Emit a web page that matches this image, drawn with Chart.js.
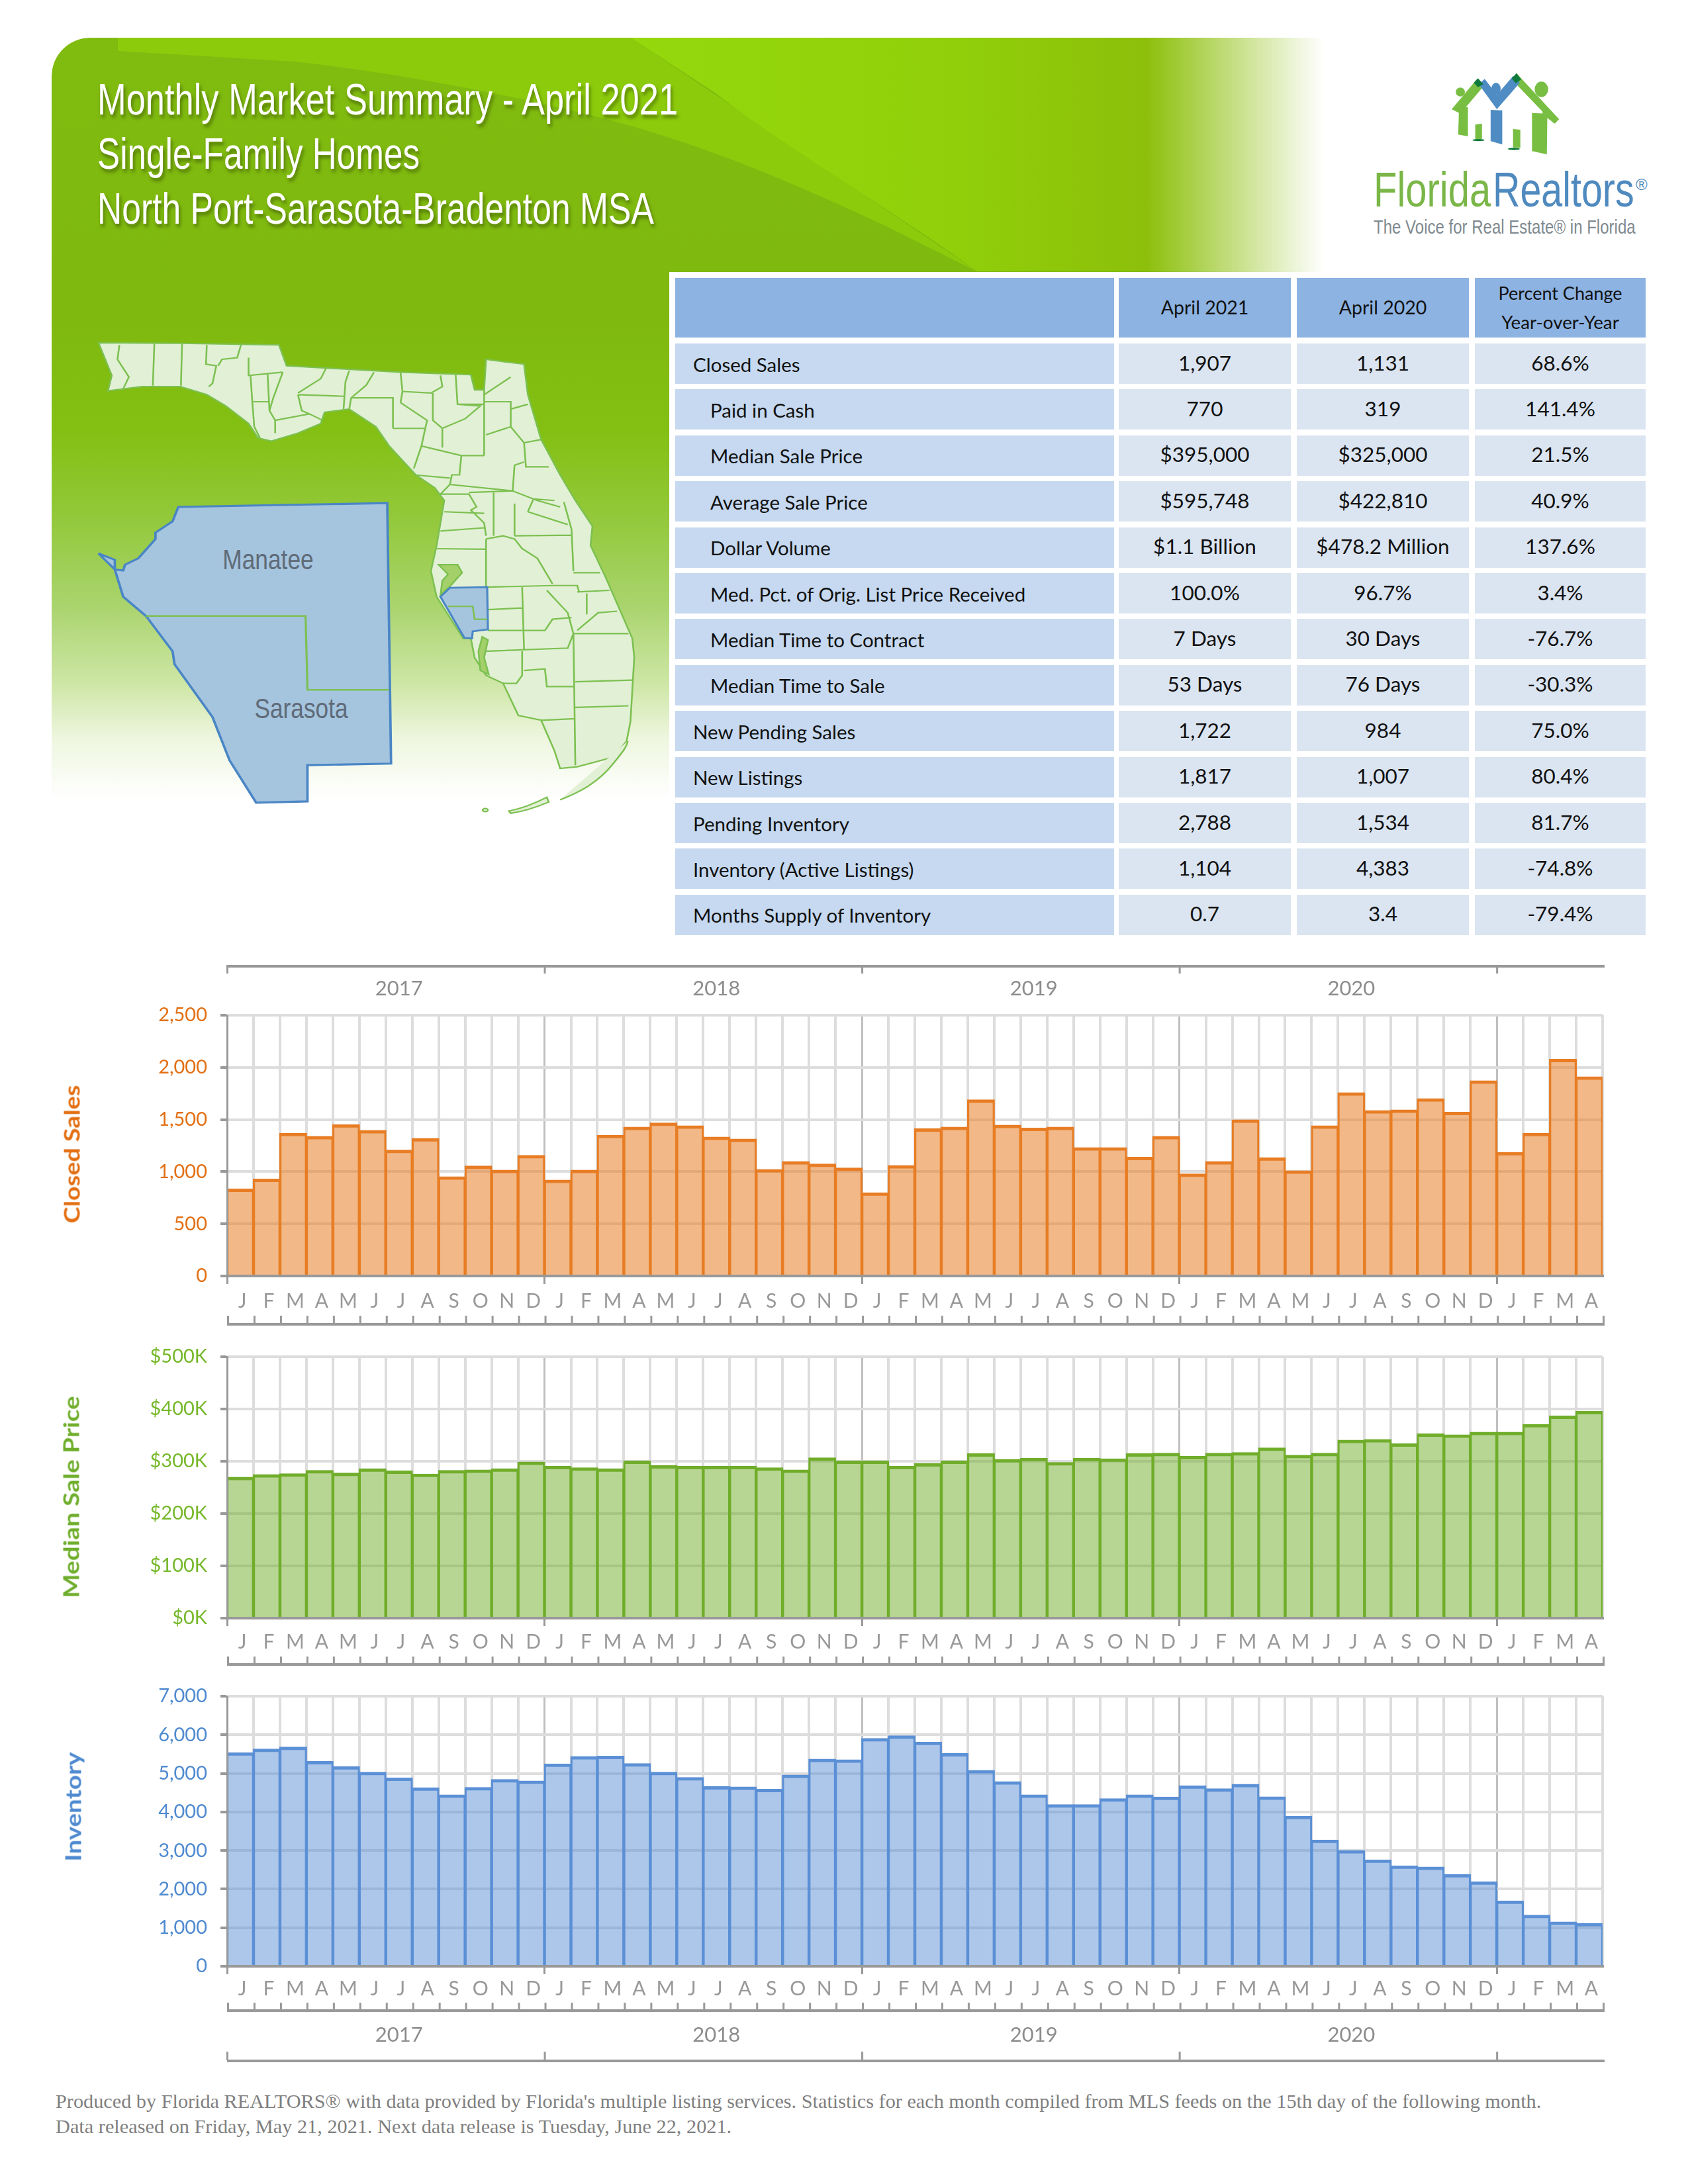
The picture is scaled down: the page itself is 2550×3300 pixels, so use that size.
<!DOCTYPE html>
<html>
<head>
<meta charset="utf-8">
<title>Monthly Market Summary - April 2021</title>
<script src="https://cdn.jsdelivr.net/npm/chart.js@4"></script>
<style>
html, body { margin: 0; padding: 0; background: #fff; }
#page { position: relative; width: 2550px; height: 3300px; overflow: hidden; background: #fff; }
#panel {
    position: absolute; left: 78px; top: 57px; width: 1925px; height: 1185px;
    border-top-left-radius: 58px;
    background: linear-gradient(to bottom, #80bb10 0, #7fb90f 430px, #84c014 600px, #93c93c 730px, #aad46e 860px, #cfe7a8 980px, #eef6df 1060px, #fff 1150px);
    -webkit-mask-image: linear-gradient(to right, #000 1653px, transparent 1922px);
    mask-image: linear-gradient(to right, #000 1653px, transparent 1922px);
}
#sweep { position: absolute; left: 0; top: 0; }
#tableBack { position: absolute; left: 1011px; top: 411px; width: 1539px; height: 1010px; background: #fff; }
.txt { position: absolute; white-space: nowrap; line-height: 1; }
.cell { position: absolute; }
svg.art { position: absolute; overflow: visible; }
canvas { position: absolute; left: 0; }
</style>
</head>
<body>
<div id="page">
    <div id="panel">
        <svg id="sweep" width="1925" height="1185">
            <defs>
                <linearGradient id="wedge" x1="875" y1="0" x2="1660" y2="0" gradientUnits="userSpaceOnUse">
                    <stop offset="0" stop-color="#95d80c"/>
                    <stop offset="0.6" stop-color="#91d00a"/>
                    <stop offset="1" stop-color="#8cbf0a"/>
                </linearGradient>
            </defs>
            <path d="M100,0 L875,0 L1398,353 L1257,283 C1100,210 1000,170 875,133 C700,85 500,50 365,36 L100,20 Z" fill="#8ccb0b"/>
            <path d="M875,0 L1925,0 L1925,353 L1398,353 C1300,280 1100,160 1002,83 Z" fill="url(#wedge)"/>
        </svg>
    </div>
    <div id="tableBack"></div>

    <!-- Florida map and the county inset, same coordinate box as the source crop -->
    <svg class="art" style="left:100px;top:480px" width="900" height="760" viewBox="0 0 1568 1568" preserveAspectRatio="none">
        <g fill="none" stroke="#7cc051" stroke-width="4.5">
            <path fill="#e2f0d5" d="M85,78 L300,80 L560,85 L580,150 L880,170 L1065,178 L1075,225 L1100,225 L1105,130 L1205,145 L1215,240 L1250,380 L1300,490 L1340,570 L1385,650 L1380,710 L1420,810 L1490,1000 L1495,1060 L1485,1260 L1475,1320 L1440,1370 L1345,1400 L1300,1405 L1285,1350 L1250,1255 L1190,1240 L1150,1140 L1105,1115 L1075,1060 L1065,1000 L1045,1000 L975,870 L960,790 L975,710 L995,570 L970,530 L920,490 L850,400 L815,340 L745,285 L680,295 L670,330 L610,360 L540,385 L505,375 L480,330 L420,275 L370,240 L300,215 L200,215 L110,228 L120,180 Z"/>
            <path d="M140,85 L135,130 L165,185 L150,222 M232,80 L228,212 M305,80 L302,212 M370,85 L368,145 L395,150 L385,205 L375,215 M460,85 L450,125 L410,130 L400,150 M480,125 L480,180 L570,170 M485,180 L490,265 L495,340 L510,375 M530,175 L535,290 L550,320 L550,360 M490,262 L535,262 M570,170 L545,250 L535,290 M550,320 L640,300 L675,320 M610,240 L730,245 M610,240 L620,290 L640,300 M685,155 L670,190 L610,235 M745,165 L735,200 L730,285 M810,170 L790,210 L750,250 L745,285"/>
            <path d="M880,170 L885,230 L880,265 M750,250 L860,250 L860,345 M880,265 L950,320 L945,345 M860,345 L945,345 L935,400 L915,470 M985,180 L990,215 L960,235 L885,230 M1025,178 L1030,270 L1100,270 M965,235 L965,320 L990,345 L990,405 M1100,225 L1100,430 M1100,262 L1170,262 L1170,340 M1170,185 L1100,240 M1170,285 L1215,270 M1030,270 L1090,275 L1050,315 L990,345 M1105,365 L1170,340 L1205,390 L1250,380 M1205,390 L1210,465 L1270,465 M1100,430 L1040,430 L1035,490 L1015,490 L1010,520 L1175,540 L1180,460 L1205,450 M935,400 L1040,430 M915,490 L1010,500 M1010,520 L985,550"/>
            <path d="M985,550 L1060,550 L1080,590 L1065,600 L1100,640 L1105,680 M1060,545 L1175,540 L1240,570 L1300,590 M1125,545 L1125,680 M1180,580 L1180,680 M1215,605 L1230,565 L1285,570 M1215,605 L1320,645 M1310,575 L1330,660 L1335,790 M995,605 L1100,610 M985,665 L1100,655 M1105,690 L1105,840 M975,720 L1105,722 M1105,690 L1150,680 L1180,690 L1200,720 L1240,750 L1280,830 M1180,680 L1330,678 M1335,795 L1405,795 M1345,855 L1430,850 M1280,835 L1345,835 L1350,855 M1108,840 L1280,835 M1200,840 L1205,1035 M1265,850 L1320,920 L1335,985 M1110,910 L1200,905 M1110,975 L1260,975 L1280,940 L1330,935 M1335,985 L1480,985 M1345,975 L1400,920 L1450,915 M1370,860 L1370,925 M1335,985 L1340,1395 M1100,1040 L1320,1030 L1335,985 M1200,1040 L1200,1115 L1185,1140 L1150,1140 M1205,1100 L1260,1095 L1265,1150 L1335,1150 M1340,1135 L1490,1130 M1340,1215 L1480,1210 M1250,1255 L1340,1250"/>
            <path fill="#a4d06a" d="M980,770 L1030,770 L1042,795 L1012,835 L985,865 L990,820 L1005,800 Z"/>
            <path fill="#a4d06a" d="M1095,995 L1110,1005 L1100,1060 L1112,1112 L1090,1100 L1085,1040 Z"/>
            <path fill="#e2f0d5" d="M1300,1503 C1350,1480 1400,1450 1440,1390 C1460,1360 1475,1340 1478,1320"/>
            <path fill="#e2f0d5" d="M1165,1538 C1200,1530 1240,1510 1265,1495 L1270,1510 C1240,1525 1200,1540 1170,1545 Z"/>
            <ellipse cx="1103" cy="1535" rx="7" ry="5" fill="#e2f0d5"/>
            <path fill="#a5c4de" stroke="#4a86c5" stroke-width="5.5" d="M985,870 L1010,842 L1108,840 L1110,972 L1070,978 L1068,1000 L1048,998 Z"/>
            <path d="M1005,900 L1070,900 L1075,940 L1108,940"/>
        </g>
        <path fill="#a5c4de" stroke="#4a86c5" stroke-width="6.5" d="M295,590 L845,578 L855,1390 L635,1395 L635,1508 L500,1512 L430,1380 L385,1245 L285,1080 L280,1040 L210,930 L150,870 L128,785 L85,735 L128,755 L128,785 L150,788 L155,770 L190,750 L235,690 L235,670 L280,635 Z"/>
        <path fill="none" stroke="#7cc051" stroke-width="5.5" d="M210,930 L630,930 L635,1160 L850,1160"/>
    </svg>

    <!-- Florida Realtors mark -->
    <svg class="art" style="left:1900px;top:40px" width="640" height="400" viewBox="0 0 1568 1200" preserveAspectRatio="none">
        <g fill="#78be43">
            <polygon points="718,375 812,238 835,272 750,395"/>
            <polygon points="958,212 1115,420 1095,438 940,240"/>
            <polygon points="745,370 778,365 778,498 742,490"/>
            <polygon points="805,445 830,440 830,510 805,512"/>
            <polygon points="945,465 972,468 972,550 945,548"/>
            <polygon points="1015,392 1072,395 1070,580 1015,565"/>
            <polygon points="1050,345 1115,420 1100,440 1055,400"/>
            <ellipse cx="750" cy="297" rx="17" ry="20"/>
            <ellipse cx="1050" cy="285" rx="25" ry="35"/>
        </g>
        <g fill="#4f8cc4">
            <polygon points="818,262 840,238 885,310 945,225 970,255 885,375"/>
            <polygon points="862,378 905,380 905,535 862,520"/>
            <ellipse cx="882" cy="282" rx="17" ry="27"/>
        </g>
        <g fill="#0e7a3c">
            <polygon points="815,235 835,262 815,275 800,255"/>
            <polygon points="958,212 975,240 955,258 940,235"/>
            <ellipse cx="817" cy="515" rx="22" ry="5"/>
            <ellipse cx="948" cy="555" rx="22" ry="5"/>
        </g>
    </svg>

    <canvas id="closedChart"></canvas>
    <canvas id="priceChart"></canvas>
    <canvas id="inventoryChart"></canvas>
</div>

<script>
// ============================================
// Monthly Market Summary - chart values
// ============================================
const monthLabels = [
    'J','F','M','A','M','J','J','A','S','O','N','D',
    'J','F','M','A','M','J','J','A','S','O','N','D',
    'J','F','M','A','M','J','J','A','S','O','N','D',
    'J','F','M','A','M','J','J','A','S','O','N','D',
    'J','F','M','A'
];
const yearLabels = ['2017', '2018', '2019', '2020'];

const closedSales = [
    832, 927, 1366, 1335, 1449, 1393, 1204, 1315, 949, 1051, 1012, 1153,
    917, 1012, 1347, 1425, 1464, 1437, 1330, 1311, 1019, 1095, 1070, 1032,
    794, 1056, 1408, 1425, 1687, 1444, 1415, 1425, 1228, 1228, 1136, 1335,
    976, 1095, 1495, 1131, 1005, 1437, 1755, 1583, 1590, 1697, 1568, 1869,
    1182, 1366, 2075, 1907
];
const medianPrice = [
    269000, 274000, 275500, 282000, 277000, 285000, 281000, 275000, 282000, 283000, 285000, 298000,
    290000, 287000, 285000, 300000, 291000, 290000, 290000, 290000, 287000, 283000, 306000, 300000,
    300000, 290000, 295000, 300000, 314000, 303000, 305000, 297000, 305000, 304000, 314000, 315000,
    309000, 315000, 316000, 325000, 311000, 315000, 340000, 341000, 333000, 352000, 350000, 355000,
    355000, 370000, 386000, 395000
];
const inventory = [
    5530, 5622, 5675, 5300, 5170, 5024, 4871, 4618, 4434, 4626, 4833, 4794,
    5239, 5430, 5438, 5246, 5024, 4886, 4649, 4641, 4580, 4948, 5361, 5346,
    5897, 5966, 5805, 5507, 5070, 4779, 4434, 4182, 4182, 4335, 4434, 4381,
    4672, 4595, 4710, 4383, 3883, 3263, 2995, 2750, 2596, 2566, 2374, 2183,
    1685, 1317, 1141, 1104
];

// Summary table
const tableColumns = ['April 2021', 'April 2020'];
const rowLabels = [
    'Closed Sales', 'Paid in Cash', 'Median Sale Price', 'Average Sale Price', 'Dollar Volume',
    'Med. Pct. of Orig. List Price Received', 'Median Time to Contract', 'Median Time to Sale',
    'New Pending Sales', 'New Listings', 'Pending Inventory', 'Inventory (Active Listings)',
    'Months Supply of Inventory'
];
const rowIndented = [false, true, true, true, true, true, true, true, false, false, false, false, false];
const april2021 = ['1,907', '770', '$395,000', '$595,748', '$1.1 Billion', '100.0%', '7 Days', '53 Days', '1,722', '1,817', '2,788', '1,104', '0.7'];
const april2020 = ['1,131', '319', '$325,000', '$422,810', '$478.2 Million', '96.7%', '30 Days', '76 Days', '984', '1,007', '1,534', '4,383', '3.4'];
const percentChange = ['68.6%', '141.4%', '21.5%', '40.9%', '137.6%', '3.4%', '-76.7%', '-30.3%', '75.0%', '80.4%', '81.7%', '-74.8%', '-79.4%'];

const footerLines = [
    "Produced by Florida REALTORS\u00AE with data provided by Florida's multiple listing services. Statistics for each month compiled from MLS feeds on the 15th day of the following month.",
    'Data released on Friday, May 21, 2021. Next data release is Tuesday, June 22, 2021.'
];

const FONT = 'Lato, "Open Sans", sans-serif';
const NARROW = '"Liberation Sans Narrow", "Liberation Sans", sans-serif';
const SERIF = '"Liberation Serif", serif';
const GRID_LIGHT = '#dddddd';
const GRID_YEAR = '#c0c0c0';
const AXIS_GRAY = '#999999';

const page = document.getElementById('page');

// text placed by its vertical centre; optional fit width stretches it to the source width
function addText(text, x, cy, size, opts) {
    opts = opts || {};
    const el = document.createElement('div');
    el.className = 'txt';
    el.textContent = text;
    el.style.left = x + 'px';
    el.style.top = cy + 'px';
    el.style.fontSize = size + 'px';
    el.style.fontFamily = opts.font || FONT;
    el.style.color = opts.color || '#000';
    if (opts.bold) el.style.fontWeight = 'bold';
    if (opts.shadow) el.style.textShadow = opts.shadow;
    page.appendChild(el);
    const center = opts.align === 'center';
    const k = opts.fit ? opts.fit / el.offsetWidth : 1;
    el.style.transformOrigin = center ? 'center' : 'left center';
    el.style.transform = 'translate(' + (center ? '-50%' : '0') + ',-50%)' +
        (opts.rot ? ' rotate(' + opts.rot + 'deg)' : '') + ' scaleX(' + k + ')';
    return el;
}

function addCell(x, y, w, h, color) {
    const el = document.createElement('div');
    el.className = 'cell';
    el.style.cssText = 'left:' + x + 'px;top:' + y + 'px;width:' + w + 'px;height:' + h + 'px;background:' + color;
    page.appendChild(el);
}

// Title block
const TITLE_SHADOW = '3px 5px 6px rgba(50,70,0,0.55)';
addText('Monthly Market Summary - April 2021', 147, 150, 66, { font: NARROW, color: '#fff', fit: 877, shadow: TITLE_SHADOW });
addText('Single-Family Homes', 147, 232, 66, { font: NARROW, color: '#fff', fit: 487, shadow: TITLE_SHADOW });
addText('North Port-Sarasota-Bradenton MSA', 147, 315, 66, { font: NARROW, color: '#fff', fit: 841, shadow: TITLE_SHADOW });

// Logo words
addText('Florida', 2075, 287, 74, { font: NARROW, color: '#7ab648', fit: 177 });
addText('Realtors', 2255, 287, 74, { font: NARROW, color: '#4f8abf', fit: 214 });
addText('\u00AE', 2471, 279, 24, { font: NARROW, color: '#4f8abf' });
addText('The Voice for Real Estate\u00AE in Florida', 2075, 343, 29, { font: NARROW, color: '#808a8f', fit: 396 });

// Inset names
addText('Manatee', 405, 846, 42, { font: NARROW, color: '#5f6b78', fit: 137, align: 'center' });
addText('Sarasota', 455, 1071, 42, { font: NARROW, color: '#5f6b78', fit: 141, align: 'center' });

// Summary table
const COL_X = [1020, 1690, 1959, 2228];
const COL_W = [663, 260, 260, 258];
const COL_MID = [0, 1820, 2089, 2357];
COL_X.forEach((x, i) => addCell(x, 420, COL_W[i], 90, '#8db3e2'));
tableColumns.forEach((name, i) => addText(name, COL_MID[i + 1], 464, 28.5, { align: 'center', color: '#111' }));
addText('Percent Change', COL_MID[3], 442, 27, { align: 'center', color: '#111', fit: 187 });
addText('Year-over-Year', COL_MID[3], 486, 27, { align: 'center', color: '#111', fit: 178 });
rowLabels.forEach((label, r) => {
    const top = 519 + r * 69.4;
    const mid = top + 30.5;
    COL_X.forEach((x, i) => addCell(x, Math.round(top), COL_W[i], 61, i === 0 ? '#c6d9f0' : '#dbe5f1'));
    addText(label, rowIndented[r] ? 1073 : 1047, mid + 1, 29.5, { color: '#111' });
    addText(april2021[r], COL_MID[1], mid - 1, 31.5, { align: 'center', color: '#111' });
    addText(april2020[r], COL_MID[2], mid - 1, 31.5, { align: 'center', color: '#111' });
    addText(percentChange[r], COL_MID[3], mid - 1, 31.5, { align: 'center', color: '#111' });
});

// Rotated axis names
addText('Closed Sales', 108, 1744, 33, { bold: true, color: '#e36f13', rot: -90, align: 'center', fit: 209 });
addText('Median Sale Price', 107, 2262, 33, { bold: true, color: '#6fae2c', rot: -90, align: 'center', fit: 305 });
addText('Inventory', 110, 2730, 33, { bold: true, color: '#4f8ad0', rot: -90, align: 'center', fit: 166 });

// Footer
addText(footerLines[0], 84, 3175, 29, { font: SERIF, color: '#7f7f7f', fit: 2244 });
addText(footerLines[1], 84, 3213, 29, { font: SERIF, color: '#7f7f7f', fit: 1021 });

// Excel style multi level axis: month tick row and the year brackets
const axisRows = {
    id: 'axisRows',
    afterDraw(chart, args, opts) {
        const { ctx } = chart;
        const x = chart.scales.x;
        const base = x.top;
        const count = monthLabels.length;
        const step = x.width / count;
        const edge = i => x.left + i * step;
        ctx.save();
        ctx.fillStyle = AXIS_GRAY;
        // month ticks with the long line under them
        for (let i = 0; i <= count; i++) {
            ctx.fillRect(edge(i), base + opts.monthTick, 3, opts.monthLine - opts.monthTick);
        }
        ctx.fillRect(edge(0), base + opts.monthLine, x.width + 3, 4);
        // year bracket
        if (opts.bracketLine !== undefined) {
            const lineY = opts.relative === 'top' ? chart.chartArea.top + opts.bracketLine : base + opts.bracketLine;
            const tickEnd = opts.relative === 'top' ? lineY + 12 : lineY - 12;
            ctx.fillRect(edge(0), lineY, x.width + 3, 4);
            for (let i = 0; i < count; i += 12) {
                ctx.fillRect(edge(i) - 1, Math.min(lineY, tickEnd), 3, 13);
            }
            const labelY = opts.relative === 'top' ? chart.chartArea.top + opts.yearLabel : base + opts.yearLabel;
            ctx.fillStyle = '#8c8c8c';
            ctx.font = '31px ' + FONT;
            ctx.textAlign = 'center';
            ctx.textBaseline = 'middle';
            yearLabels.forEach((year, i) => ctx.fillText(year, x.getPixelForValue(i * 12 + 6), labelY));
        }
        ctx.restore();
    }
};

function buildChart(id, spec) {
    const canvas = document.getElementById(id);
    canvas.width = 2550;
    canvas.height = spec.bottom - spec.top;
    canvas.style.top = spec.top + 'px';
    return new Chart(canvas, {
        type: 'bar',
        plugins: [axisRows],
        data: {
            labels: monthLabels,
            datasets: [{
                data: spec.values,
                backgroundColor: spec.fill,
                borderColor: spec.stroke,
                borderWidth: { top: 3, left: 1.25, right: 1.25, bottom: 0 },
                inflateAmount: 1,
                barPercentage: 1,
                categoryPercentage: 1
            }]
        },
        options: {
            responsive: false,
            devicePixelRatio: 1,
            animation: false,
            layout: { padding: { top: spec.plotTop - spec.top, right: 129, bottom: 0, left: 0 } },
            plugins: {
                legend: { display: false },
                title: { display: false },
                tooltip: { enabled: false },
                axisRows: spec.rows
            },
            scales: {
                x: {
                    afterFit(scale) { scale.height = spec.bottom - spec.plotBottom; },
                    border: { color: AXIS_GRAY, width: 4, z: 1 },
                    grid: {
                        offset: true,
                        color: c => (c.index % 12 === 0 ? GRID_YEAR : GRID_LIGHT),
                        lineWidth: c => (c.index % 12 === 0 ? 3 : 4),
                        tickColor: c => (c.index % 12 === 0 ? AXIS_GRAY : 'transparent'),
                        tickWidth: 3,
                        tickLength: 12
                    },
                    ticks: {
                        autoSkip: false,
                        maxRotation: 0,
                        labelOffset: 3,
                        padding: spec.monthPadding,
                        color: AXIS_GRAY,
                        font: { family: FONT, size: 30 }
                    }
                },
                y: {
                    min: 0,
                    max: spec.max,
                    afterFit(scale) { scale.width = 343; },
                    border: { color: AXIS_GRAY, width: 3, z: 1 },
                    grid: { color: GRID_LIGHT, lineWidth: 4, tickColor: AXIS_GRAY, tickWidth: 4, tickLength: 10 },
                    ticks: {
                        stepSize: spec.step,
                        padding: 20,
                        color: spec.tickColor,
                        font: { family: FONT, size: 29 },
                        callback: spec.format
                    }
                }
            }
        }
    });
}

const withCommas = v => v.toLocaleString('en-US');

// canvases overlap a little: each keeps 94px above the plot so the layout stays exact
buildChart('closedChart', {
    top: 1440, bottom: 2020, plotTop: 1534, plotBottom: 1928,
    values: closedSales, max: 2500, step: 500, format: withCommas,
    fill: 'rgba(232,125,36,0.55)', stroke: '#e87d24', tickColor: '#e36f13',
    monthPadding: 8,
    rows: { monthTick: 60, monthLine: 71, relative: 'top', bracketLine: -76, yearLabel: -40 }
});
buildChart('priceChart', {
    top: 1956, bottom: 2530, plotTop: 2050, plotBottom: 2445,
    values: medianPrice, max: 500000, step: 100000, format: v => '$' + (v / 1000) + 'K',
    fill: 'rgba(112,173,42,0.5)', stroke: '#70ad2a', tickColor: '#76b82a',
    monthPadding: 6,
    rows: { monthTick: 58, monthLine: 68 }
});
buildChart('inventoryChart', {
    top: 2469, bottom: 3130, plotTop: 2563, plotBottom: 2971,
    values: inventory, max: 7000, step: 1000, format: withCommas,
    fill: 'rgba(91,144,214,0.5)', stroke: '#5b90d6', tickColor: '#4f8ad0',
    monthPadding: 4,
    rows: { monthTick: 55, monthLine: 65, bracketLine: 141, yearLabel: 104 }
});
</script>
</body>
</html>
